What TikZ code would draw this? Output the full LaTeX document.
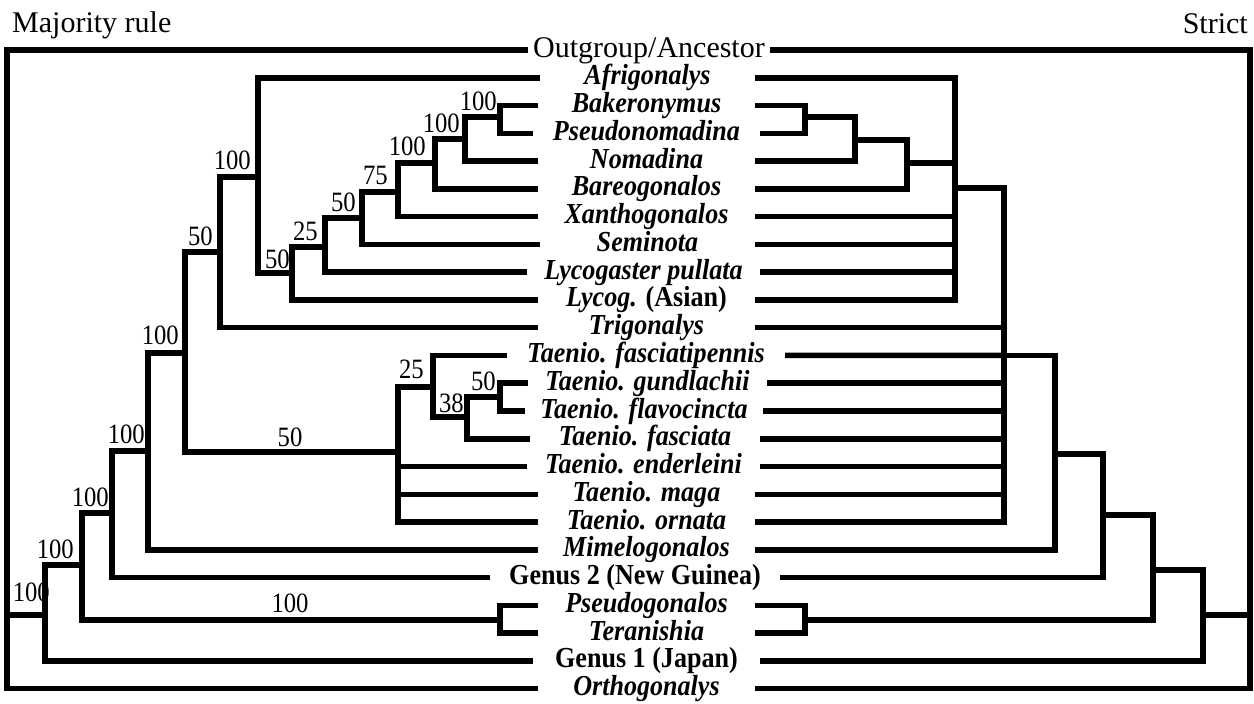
\documentclass[tikz,border=0pt]{standalone}
\usepackage{fontspec}
\setmainfont{Liberation Serif}
\newfontfamily\taxfont[FakeStretch=0.9]{Liberation Serif}
\newfontfamily\numfont[FakeStretch=0.88]{Liberation Serif}
\newcommand\taxon[5]{%
  \pgfmathsetmacro\tyy{50+27.77*#2}%
  \pgfmathsetmacro\txx{(#3+#4)/2}%
  \pgfmathsetmacro\tww{#4-#3}%
  \node[taxon, minimum width=\tww pt] (#1) at (\txx,\tyy) {#5};}
\tikzset{
  taxon/.style={inner sep=0pt, text height=20pt, text depth=6pt,
    font=\taxfont\fontsize{29}{30}\selectfont\bfseries\itshape},
  lbl/.style={inner sep=0pt, anchor=base east, font=\numfont\fontsize{28}{30}\selectfont},
  lblc/.style={inner sep=0pt, anchor=base, font=\numfont\fontsize{28}{30}\selectfont},
  title/.style={inner sep=0pt, font=\fontsize{30}{36}\selectfont},
  br/.style={line width=5.5pt, line join=miter},
}
\begin{document}
\begin{tikzpicture}[x=1pt,y=-1pt]
\useasboundingbox (0,0) rectangle (1254,704);
% titles
\node[title, anchor=base west] (maj) at (12,32) {Majority rule};
\node[title, anchor=base east] (str) at (1248,33) {Strict};
% taxa
\node[taxon, font=\fontsize{30}{36}\selectfont, minimum width=242pt] (t0) at (649,50) {Outgroup/Ancestor};
\taxon{t1}{1}{540}{755}{Afrigonalys}
\taxon{t2}{2}{538}{755}{Bakeronymus}
\taxon{t3}{3}{533}{760}{Pseudonomadina}
\taxon{t4}{4}{538}{755}{Nomadina}
\taxon{t5}{5}{538}{755}{Bareogonalos}
\taxon{t6}{6}{538}{755}{Xanthogonalos}
\taxon{t7}{7}{540}{755}{Seminota}
\taxon{t8}{8}{527}{760}{Lycogaster pullata}
\taxon{t9}{9}{538}{755}{Lycog. {\upshape(Asian)}}
\taxon{t10}{10}{538}{755}{Trigonalys}
\taxon{t11}{11}{507}{785}{Taenio. fasciatipennis}
\taxon{t12}{12}{528}{767}{Taenio. gundlachii}
\taxon{t13}{13}{525}{763}{Taenio. flavocincta}
\taxon{t14}{14}{530}{760}{Taenio. fasciata}
\taxon{t15}{15}{527}{760}{Taenio. enderleini}
\taxon{t16}{16}{538}{755}{Taenio. maga}
\taxon{t17}{17}{538}{755}{Taenio. ornata}
\taxon{t18}{18}{538}{755}{Mimelogonalos}
\taxon{t19}{19}{490}{780}{\upshape Genus 2 (New Guinea)}
\taxon{t20}{20}{538}{755}{Pseudogonalos}
\taxon{t21}{21}{538}{755}{Teranishia}
\taxon{t22}{22}{533}{760}{\upshape Genus 1 (Japan)}
\taxon{t23}{23}{538}{755}{Orthogonalys}
% support values (left tree)
\node[lbl] (v1) at (497,110) {100};
\node[lbl] (v2) at (460,132) {100};
\node[lbl] (v3) at (426,155) {100};
\node[lbl] (v4) at (388,184) {75};
\node[lbl] (v5) at (356,211) {50};
\node[lbl] (v6) at (318,240) {25};
\node[lbl] (v7) at (290,268) {50};
\node[lbl] (v8) at (251,169) {100};
\node[lbl] (v9) at (213,245) {50};
\node[lbl] (v10) at (179,344) {100};
\node[lbl] (v11) at (145,443) {100};
\node[lbl] (v12) at (109,506) {100};
\node[lbl] (v13) at (74,558) {100};
\node[lbl] (v14) at (50,601) {100};
\node[lbl] (w1) at (496,390) {50};
\node[lbl] (w2) at (464,412) {38};
\node[lbl] (w3) at (424,378) {25};
\node[lblc] (w4) at (290,446) {50};
\node[lblc] (w5) at (290,612) {100};
% left tree node points
\coordinate (n1) at (500,117);
\coordinate (n2) at (465,139);
\coordinate (n3) at (435,163);
\coordinate (n4) at (398,192);
\coordinate (n5) at (362,218);
\coordinate (n6) at (325,247);
\coordinate (n7) at (292,273);
\coordinate (n8) at (258,177);
\coordinate (n9) at (220,252);
\coordinate (m1) at (500,397);
\coordinate (m2) at (467,417);
\coordinate (m3) at (433,387);
\coordinate (m4) at (398,452);
\coordinate (n10) at (185,353);
\coordinate (n11) at (148,451);
\coordinate (n12) at (112,513);
\coordinate (p1) at (500,620);
\coordinate (n13) at (82,565);
\coordinate (n14) at (45,615);
\coordinate (rootL) at (7,615);
% left tree
\draw[br] (t2.west) -| (n1) |- (t3.west);
\draw[br] (n1) -| (n2) |- (t4.west);
\draw[br] (n2) -| (n3) |- (t5.west);
\draw[br] (n3) -| (n4) |- (t6.west);
\draw[br] (n4) -| (n5) |- (t7.west);
\draw[br] (n5) -| (n6) |- (t8.west);
\draw[br] (n6) -| (n7) |- (t9.west);
\draw[br] (t1.west) -| (n8) |- (n7);
\draw[br] (n8) -| (n9) |- (t10.west);
\draw[br] (t12.west) -| (m1) |- (t13.west);
\draw[br] (m1) -| (m2) |- (t14.west);
\draw[br] (t11.west) -| (m3) |- (m2);
\draw[br] (m3) -| (m4) |- (t17.west);
\draw[br] (t15.west) -- (t15 -| m4);
\draw[br] (t16.west) -- (t16 -| m4);
\draw[br] (n9) -| (n10) |- (m4);
\draw[br] (n10) -| (n11) |- (t18.west);
\draw[br] (n11) -| (n12) |- (t19.west);
\draw[br] (t20.west) -| (p1) |- (t21.west);
\draw[br] (n12) -| (n13) |- (p1);
\draw[br] (n13) -| (n14) |- (t22.west);
\draw[br] (t0.west) -| (rootL) |- (t23.west);
\draw[br] (rootL) -- (n14);
% right tree node points
\coordinate (r1) at (805,117);
\coordinate (r2) at (855,140);
\coordinate (r3) at (907,163);
\coordinate (r4) at (955,188);
\coordinate (r5) at (1004,355.47);
\coordinate (r6) at (1055,454);
\coordinate (r7) at (1103,515);
\coordinate (s1) at (805,620);
\coordinate (r8) at (1153,570);
\coordinate (r9) at (1203,615);
\coordinate (rootR) at (1250,615);
% right tree
\draw[br] (t2.east) -| (r1) |- (t3.east);
\draw[br] (r1) -| (r2) |- (t4.east);
\draw[br] (r2) -| (r3) |- (t5.east);
\draw[br] (t1.east) -| (r4) |- (t9.east);
\draw[br] (r3) -- (r3 -| r4);
\draw[br] (t6.east) -- (t6 -| r4);
\draw[br] (t7.east) -- (t7 -| r4);
\draw[br] (t8.east) -- (t8 -| r4);
\draw[br] (r4) -| (r5) |- (t17.east);
\draw[br] (t10.east) -- (t10 -| r5);
\draw[br] (t11.east) -- (r5);
\draw[br] (t12.east) -- (t12 -| r5);
\draw[br] (t13.east) -- (t13 -| r5);
\draw[br] (t14.east) -- (t14 -| r5);
\draw[br] (t15.east) -- (t15 -| r5);
\draw[br] (t16.east) -- (t16 -| r5);
\draw[br] (r5) -| (r6) |- (t18.east);
\draw[br] (r6) -| (r7) |- (t19.east);
\draw[br] (t20.east) -| (s1) |- (t21.east);
\draw[br] (r7) -| (r8) |- (s1);
\draw[br] (r8) -| (r9) |- (t22.east);
\draw[br] (t0.east) -| (rootR) |- (t23.east);
\draw[br] (r9) -- (rootR);
\end{tikzpicture}
\end{document}
